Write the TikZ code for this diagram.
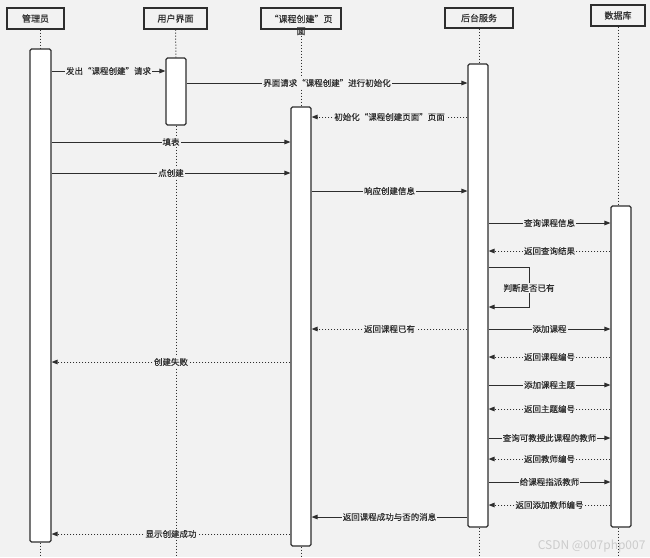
\documentclass[tikz,border=0pt]{standalone}
\usepackage{fontspec}
\newfontfamily\cjk[FakeBold=0.4]{Noto Sans CJK SC}
\newfontfamily\cjkmark{Noto Sans CJK SC}
\usetikzlibrary{positioning,arrows.meta,calc}
\usepackage{xcolor}
\definecolor{bgc}{HTML}{F2F2F2}
\definecolor{ink}{HTML}{2E2E2E}

\begin{document}
\begin{tikzpicture}[x=1pt,y=-1pt,>={Triangle[length=6pt,width=4.5pt]},
  head/.style={draw=ink,line width=1.3pt,fill=bgc,inner sep=0pt,text=ink,font=\cjk\fontsize{9}{11}\selectfont},
  bar/.style={draw=ink,line width=1.1pt,fill=white,rounded corners=1.5pt,inner sep=0pt,minimum width=20pt},
  life/.style={draw=ink,line width=1pt,dotted},
  call/.style={->,draw=ink,line width=1pt},
  back/.style={->,draw=ink,line width=1pt,dotted},
  msg/.style={fill=bgc,inner sep=1pt,text=ink,font=\cjk\fontsize{8.5}{10}\selectfont}]
\fill[bgc] (0,0) rectangle (650,557);
\useasboundingbox (0,0) rectangle (650,557);
\coordinate (bot) at (0,557);

% lifeline heads
\node[head,minimum width=57pt,minimum height=21pt] (adm) at (35.5,18.5) {管理员};
\node[head,minimum width=63pt,minimum height=21pt] (ui) at (175.5,18.5) {用户界面};
\node[head,minimum width=80pt,minimum height=21pt] (pg) at (301,18.5)
  {\raisebox{0pt}[\height][0pt]{\begin{tabular}[t]{@{}c@{}}“课程创建”页\\[1pt]面\end{tabular}}};
\node[head,minimum width=68pt,minimum height=20pt] (bk) at (479,18) {后台服务};
\node[head,minimum width=54pt,minimum height=21pt] (db) at (618,15.5) {数据库};

% activation bars
\node[bar,minimum width=21pt,minimum height=493pt] (admbar) at (40.5,295.5) {};
\node[bar,minimum height=67pt] (uibar) at (176,91.5) {};
\node[bar,minimum height=439pt] (pgbar) at (301,326.5) {};
\node[bar,minimum height=463pt] (bkbar) at (478,295.5) {};
\node[bar,minimum height=321pt] (dbbar) at (621,366.5) {};

\draw[life] (admbar |- adm.south) -- (admbar.north);
\draw[life] (admbar.south) -- (admbar |- bot);
\draw[life] (ui.south) -- (uibar.north);
\draw[life] (uibar.south) -- (uibar |- bot);
\draw[life] (pg.south) -- (pgbar.north);
\draw[life] (pgbar.south) -- (pgbar |- bot);
\draw[life] (bk.south) -- (bk |- bkbar.north);
\draw[life] (bk |- bkbar.south) -- (bk |- bot);
\draw[life] (db.south) -- (db |- dbbar.north);
\draw[life] (db |- dbbar.south) -- (db |- bot);

% messages
\draw[call] (admbar.east |- 0,71) -- (uibar.west |- 0,71) node[msg,midway]{发出“课程创建”请求};
\draw[call] (uibar.east |- 0,83) -- (bkbar.west |- 0,83) node[msg,midway]{界面请求“课程创建”进行初始化};
\draw[back] (bkbar.west |- 0,117) -- (pgbar.east |- 0,117) node[msg,midway]{初始化“课程创建页面”页面};
\draw[call] (admbar.east |- 0,142) -- (pgbar.west |- 0,142) node[msg,midway]{填表};
\draw[call] (admbar.east |- 0,173) -- (pgbar.west |- 0,173) node[msg,midway]{点创建};
\draw[call] (pgbar.east |- 0,191) -- (bkbar.west |- 0,191) node[msg,midway]{响应创建信息};
\draw[call] (bkbar.east |- 0,223) -- (dbbar.west |- 0,223) node[msg,midway]{查询课程信息};
\draw[back] (dbbar.west |- 0,251) -- (bkbar.east |- 0,251) node[msg,midway]{返回查询结果};
\draw[call] (bkbar.east |- 0,267) -- (529,267) -- (529,307) -- (bkbar.east |- 0,307);
\node[msg] (check) at (529,288) {判断是否已有};
\draw[call] (bkbar.east |- 0,329) -- (dbbar.west |- 0,329) node[msg,midway]{添加课程};
\draw[back] (bkbar.west |- 0,329) -- (pgbar.east |- 0,329) node[msg,midway]{返回课程已有};
\draw[back] (dbbar.west |- 0,357) -- (bkbar.east |- 0,357) node[msg,midway]{返回课程编号};
\draw[back] (pgbar.west |- 0,362) -- (admbar.east |- 0,362) node[msg,midway]{创建失败};
\draw[call] (bkbar.east |- 0,385) -- (dbbar.west |- 0,385) node[msg,midway]{添加课程主题};
\draw[back] (dbbar.west |- 0,409) -- (bkbar.east |- 0,409) node[msg,midway]{返回主题编号};
\draw[call] (bkbar.east |- 0,438) -- (dbbar.west |- 0,438) node[msg,midway]{查询可教授此课程的教师};
\draw[back] (dbbar.west |- 0,459) -- (bkbar.east |- 0,459) node[msg,midway]{返回教师编号};
\draw[call] (bkbar.east |- 0,482) -- (dbbar.west |- 0,482) node[msg,midway]{给课程指派教师};
\draw[back] (dbbar.west |- 0,505) -- (bkbar.east |- 0,505) node[msg,midway]{返回添加教师编号};
\draw[call] (bkbar.west |- 0,517) -- (pgbar.east |- 0,517) node[msg,midway]{返回课程成功与否的消息};
\draw[back] (pgbar.west |- 0,534) -- (admbar.east |- 0,534) node[msg,midway]{显示创建成功};

\node[anchor=east,text=black!20,font=\cjkmark\fontsize{12}{14}\selectfont] (mark) at (649,546) {CSDN @007php007};
\end{tikzpicture}
\end{document}
